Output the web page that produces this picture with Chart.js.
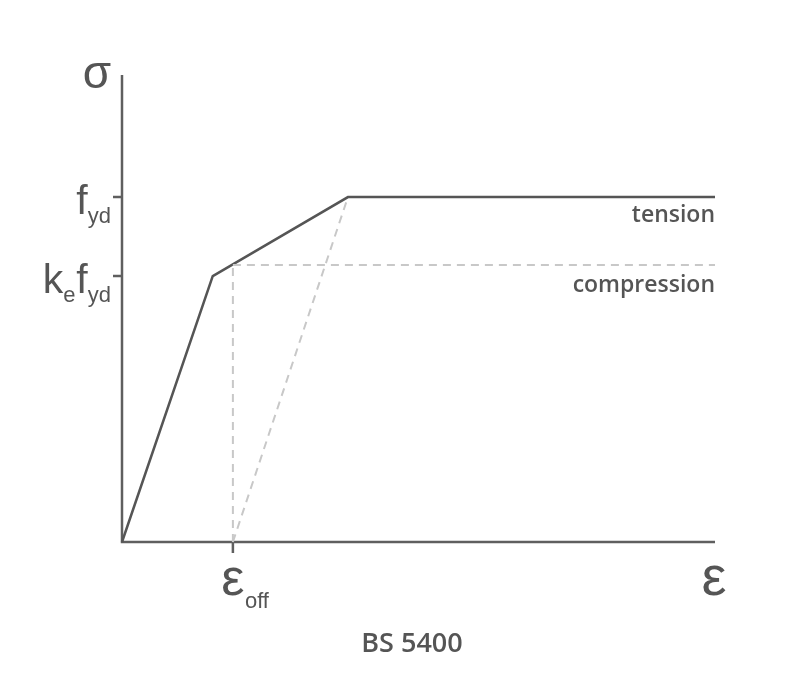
<!DOCTYPE html>
<html>
<head>
<meta charset="utf-8">
<script src="https://cdn.jsdelivr.net/npm/chart.js@4"></script>
<style>
  body { margin: 0; background: #fff; }
  #wrap { width: 804px; height: 693px; }
</style>
</head>
<body>
<div id="wrap"><canvas id="bsChart"></canvas></div>
<script>
// stress-strain curve (strain relative to axis length, stress relative to f_yd)
const strain = [0, 0.153, 0.381, 1.0];
const stress = [0, 0.771, 1.0, 1.0];

// dashed construction lines
const compX = [0.187, 1.0];     const compY = [0.803, 0.803];
const offVertX = [0.187, 0.187]; const offVertY = [0, 0.803];
const offDiagX = [0.187, 0.381]; const offDiagY = [0, 1.0];

// axis ticks
const yTickVals = [1.0, 0.771];
const yTickLabels = [['f', 'yd'], ['k', 'e', 'f', 'yd']];
const xTickVals = [0.187];
const xTickLabels = [['\u03b5', 'off']];

const xMax = 1.0;
const yMax = 1.354;

const axisColor = '#5f5f5f';
const lineColor = '#555555';
const dashColor = '#c8c8c8';
const mathFont = '"Liberation Sans", Arial, sans-serif';
const textFont = '"Open Sans", sans-serif';

function pts(xs, ys) {
    return xs.map((x, i) => ({x: x, y: ys[i]}));
}

function dashed(xs, ys) {
    return {
        data: pts(xs, ys),
        borderColor: dashColor,
        borderWidth: 2,
        borderDash: [8, 6],
        pointRadius: 0,
        fill: false,
        clip: false
    };
}

const axesPlugin = {
    id: 'axesPlugin',
    beforeDatasetsDraw(chart) {
        const ctx = chart.ctx;
        const xs = chart.scales.x, ys = chart.scales.y;
        const x0 = xs.getPixelForValue(0), y0 = ys.getPixelForValue(0);
        ctx.save();
        ctx.strokeStyle = axisColor;
        ctx.lineWidth = 2.5;
        ctx.beginPath();
        ctx.moveTo(x0, ys.getPixelForValue(yMax));
        ctx.lineTo(x0, y0);
        ctx.lineTo(xs.getPixelForValue(xMax), y0);
        yTickVals.forEach(v => {
            const py = ys.getPixelForValue(v);
            ctx.moveTo(x0 - 9, py);
            ctx.lineTo(x0, py);
        });
        xTickVals.forEach(v => {
            const px = xs.getPixelForValue(v);
            ctx.moveTo(px, y0);
            ctx.lineTo(px, y0 + 11);
        });
        ctx.stroke();
        ctx.restore();
    },
    afterDatasetsDraw(chart) {
        const ctx = chart.ctx;
        const xs = chart.scales.x, ys = chart.scales.y;
        const x0 = xs.getPixelForValue(0), y0 = ys.getPixelForValue(0);
        ctx.save();
        ctx.fillStyle = lineColor;
        ctx.textBaseline = 'alphabetic';

        // axis symbols
        ctx.font = '46px ' + mathFont;
        ctx.textAlign = 'center';
        ctx.fillText('\u03c3', x0 - 25, ys.getPixelForValue(yMax) + 13);
        ctx.font = '56px ' + mathFont;
        ctx.fillText('\u03b5', xs.getPixelForValue(xMax) - 1, y0 + 53);

        // y tick labels, built right to left (big / subscript pairs)
        yTickVals.forEach((v, i) => {
            const py = ys.getPixelForValue(v);
            const parts = yTickLabels[i];
            let right = x0 - 11;
            for (let k = parts.length - 1; k >= 0; k--) {
                const isSub = k % 2 === 1;
                ctx.font = (isSub ? '22px ' : '41px ') + mathFont;
                ctx.textAlign = 'right';
                ctx.fillText(parts[k], right, py + (isSub ? 26 : 17));
                right -= ctx.measureText(parts[k]).width + (isSub ? 0 : 1);
            }
        });

        // x tick label
        xTickVals.forEach((v, i) => {
            const px = xs.getPixelForValue(v);
            ctx.font = '52px ' + mathFont;
            ctx.textAlign = 'center';
            ctx.fillText(xTickLabels[i][0], px, y0 + 53);
            ctx.font = '22px ' + mathFont;
            ctx.textAlign = 'left';
            ctx.fillText(xTickLabels[i][1], px + 12, y0 + 66);
        });

        // curve labels
        ctx.font = '600 23px ' + textFont;
        ctx.textAlign = 'right';
        ctx.fillStyle = '#555555';
        const xr = xs.getPixelForValue(xMax);
        ctx.fillText('tension', xr, ys.getPixelForValue(1.0) + 25);
        ctx.fillText('compression', xr, ys.getPixelForValue(compY[0]) + 27);

        // caption
        ctx.font = '600 27px ' + textFont;
        ctx.textAlign = 'center';
        ctx.fillText('BS 5400', 412, 652);
        ctx.restore();
    }
};

new Chart(document.getElementById('bsChart'), {
    type: 'line',
    data: {
        datasets: [
            dashed(compX, compY),
            dashed(offVertX, offVertY),
            dashed(offDiagX, offDiagY),
            {
                data: pts(strain, stress),
                borderColor: lineColor,
                borderWidth: 2.5,
                pointRadius: 0,
                fill: false,
                clip: false
            }
        ]
    },
    options: {
        responsive: true,
        maintainAspectRatio: false,
        animation: false,
        layout: { padding: { left: 122, right: 89, top: 75, bottom: 151 } },
        scales: {
            x: { type: 'linear', min: 0, max: xMax, display: false },
            y: { type: 'linear', min: 0, max: yMax, display: false }
        },
        plugins: {
            legend: { display: false },
            tooltip: { enabled: false }
        }
    },
    plugins: [axesPlugin]
});
</script>
</body>
</html>
